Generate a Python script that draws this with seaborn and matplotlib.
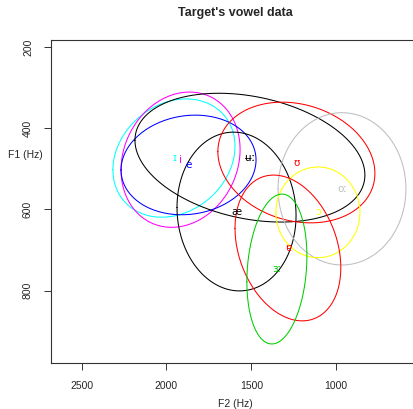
import numpy as np
import pandas as pd
import matplotlib
matplotlib.use("Agg")
import matplotlib.pyplot as plt
import seaborn as sns

# vowel means and ellipse spreads (Hz)
vowels = ["ɪ", "i", "e", "ʉː", "æ", "ʊ", "oː", "ɔ", "ɐ", "ɜː"]
colors = ["#00FFFF", "#FF00FF", "#0000FF", "#000000", "#000000",
          "#FF0000", "#BEBEBE", "#FFFF00", "#FF0000", "#00CD00"]
f2_mean = [1956, 1917, 1870, 1508, 1587, 1234, 965, 1107, 1284, 1349]
f1_mean = [473, 477, 490, 472, 605, 484, 549, 607, 695, 747]
f2_rad = [360, 351, 398, 678, 351, 463, 377, 248, 312, 177]
f1_rad = [146, 167, 123, 159, 196, 149, 188, 112, 180, 185]
corr = [0.2, 0.15, 0.1, -0.27, -0.05, -0.18, 0.0, 0.0, -0.27, 0.17]

x_ticks = [2500, 2000, 1500, 1000]
y_ticks = [200, 400, 600, 800]

sns.set_style("white")
plt.rcParams['font.family'] = ['Liberation Sans', 'DejaVu Sans']

fig = plt.figure(figsize=(4.14, 4.09), dpi=100)
ax = fig.add_axes([51/414, 46/409, 368/414, 323/409])

t = np.linspace(0, 2*np.pi, 241)
for v, c, m2, m1, r2, r1, rho in zip(vowels, colors, f2_mean, f1_mean, f2_rad, f1_rad, corr):
    phi = np.arccos(rho)
    df = pd.DataFrame({"F2": m2 + r2*np.cos(t), "F1": m1 + r1*np.cos(t - phi)})
    sns.lineplot(data=df, x="F2", y="F1", sort=False, estimator=None,
                 color=c, lw=0.75, ax=ax)
    ax.text(m2, m1, v, color=c, fontsize=7.5, ha="center", va="center",
            family=['DejaVu Sans'])

ax.set_xlim(2681, 511)
ax.set_ylim(979, 181.5)
ax.set_xticks(x_ticks)
ax.set_yticks(y_ticks)
ax.set_yticklabels([str(v) for v in y_ticks], rotation=90, va="center")
ax.tick_params(axis="both", direction="out", length=5, width=0.7,
               color="#333333", labelsize=7.5, pad=8, left=True, bottom=True)
for s in ["left", "bottom", "top"]:
    ax.spines[s].set_color("#333333")
    ax.spines[s].set_linewidth(0.8)
ax.spines["right"].set_visible(False)

ax.set_xlabel("F2 (Hz)", fontsize=7.5, labelpad=6)
ax.set_ylabel("")
fig.text(25/414, 1 - 155/409, "F1 (Hz)", fontsize=7.5, ha="center", va="center")
ax.set_title("Target's vowel data", fontsize=9, fontweight="bold", pad=17)

fig.savefig("out.png", dpi=100)
